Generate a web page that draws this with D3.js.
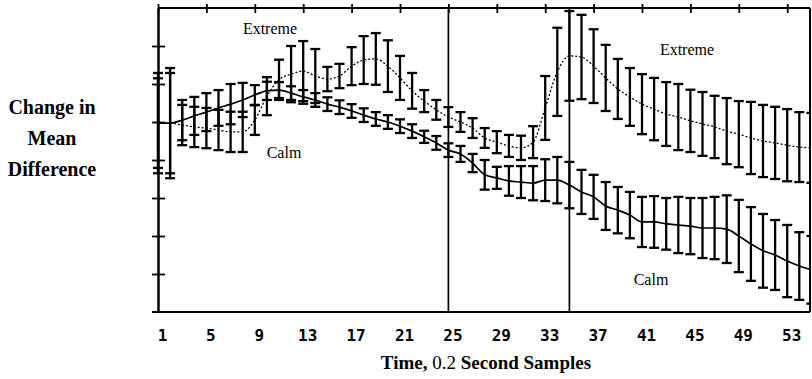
<!DOCTYPE html>
<html>
<head>
<meta charset="utf-8">
<script src="https://cdn.jsdelivr.net/npm/d3@7"></script>
<style>
  body { margin: 0; background: #fff; }
  svg { display: block; }
</style>
</head>
<body>
<div id="chart"></div>
<script>
// samples (0.2 s each)
var samples = d3.range(1, 56);

// Calm condition: mean and error half-width
var calmMean = [0.97, 0.97, 1.05, 1.16, 1.26, 1.37, 1.47, 1.58, 1.71, 1.82,
  1.84, 1.76, 1.66, 1.58, 1.47, 1.39, 1.29, 1.18, 1.08, 1.00,
  0.89, 0.76, 0.61, 0.45, 0.26, 0.16, -0.08, -0.39, -0.47, -0.55,
  -0.58, -0.61, -0.53, -0.53, -0.66, -0.84, -0.97, -1.21, -1.32, -1.45,
  -1.63, -1.63, -1.68, -1.71, -1.74, -1.79, -1.79, -1.82, -2.00, -2.21,
  -2.39, -2.50, -2.66, -2.79, -2.89];
var calmErr = [1.18, 1.32, 0.53, 0.50, 0.50, 0.47, 0.53, 0.45, 0.26, 0.24,
  0.21, 0.18, 0.18, 0.18, 0.18, 0.18, 0.18, 0.18, 0.18, 0.18,
  0.18, 0.18, 0.16, 0.18, 0.18, 0.21, 0.24, 0.39, 0.29, 0.39,
  0.42, 0.45, 0.55, 0.61, 0.61, 0.58, 0.58, 0.63, 0.61, 0.61,
  0.66, 0.68, 0.68, 0.74, 0.74, 0.79, 0.82, 0.89, 0.95, 0.97,
  0.97, 0.92, 0.95, 0.89, 0.89];

// Extreme condition
var extremeMean = [0.97, 0.97, 0.92, 0.87, 0.84, 0.79, 0.74, 0.74, 1.05, 1.68,
  2.11, 2.26, 2.34, 2.21, 2.13, 2.21, 2.47, 2.63, 2.66, 2.47,
  2.16, 1.82, 1.55, 1.32, 1.13, 1.00, 0.84, 0.58, 0.47, 0.37,
  0.32, 0.47, 1.37, 2.32, 2.74, 2.71, 2.47, 2.16, 1.87, 1.66,
  1.47, 1.34, 1.21, 1.13, 1.03, 0.95, 0.87, 0.76, 0.68, 0.58,
  0.50, 0.45, 0.39, 0.34, 0.32];
var extremeErr = [1.32, 1.45, 0.53, 0.53, 0.53, 0.53, 0.53, 0.53, 0.39, 0.50,
  0.53, 0.74, 0.79, 0.71, 0.32, 0.32, 0.50, 0.63, 0.68, 0.68,
  0.58, 0.47, 0.29, 0.26, 0.26, 0.26, 0.26, 0.26, 0.29, 0.29,
  0.32, 0.42, 0.84, 1.16, 1.18, 1.11, 0.97, 0.87, 0.79, 0.76,
  0.79, 0.82, 0.84, 0.87, 0.82, 0.84, 0.82, 0.87, 0.87, 0.95,
  0.95, 0.95, 0.95, 0.92, 0.92];

var xTickLabels = ["1", "5", "9", "13", "17", "21", "25", "29", "33", "37", "41", "45", "49", "53"];
var yTicks = [-3, -2, -1, 0, 1, 2, 3];
var dividers = [25, 35];

var width = 812, height = 379;
// note: "top" is reserved on window, so use plotTop etc.
var plotLeft = 158, plotRight = 810, plotTop = 8, plotBottom = 312;

var svg = d3.select("#chart").append("svg")
    .attr("width", width)
    .attr("height", height);

var x = d3.scaleLinear().domain([1, 55]).range([plotLeft, plotLeft + 54 * 12.1]);
var y = d3.scaleLinear().domain([-4, 4]).range([plotBottom, plotTop]);

svg.append("defs").append("clipPath").attr("id", "plot")
  .append("rect").attr("x", plotLeft - 8).attr("y", 0)
  .attr("width", plotRight - plotLeft + 8).attr("height", plotBottom);

var plot = svg.append("g").attr("clip-path", "url(#plot)");

// divider lines
plot.selectAll("line.div").data(dividers).enter().append("line")
    .attr("class", "div")
    .attr("x1", function(d) { return x(d); })
    .attr("x2", function(d) { return x(d); })
    .attr("y1", plotTop).attr("y2", plotBottom)
    .attr("stroke", "#000").attr("stroke-width", 1.7);

function drawSeries(mean, err, dash) {
  var pts = samples.map(function(s, i) { return {s: s, m: mean[i], e: err[i]}; });

  var g = plot.append("g");
  var bars = g.selectAll("g.bar").data(pts).enter().append("g");
  bars.append("line")
      .attr("x1", function(d) { return x(d.s); })
      .attr("x2", function(d) { return x(d.s); })
      .attr("y1", function(d) { return y(d.m + d.e); })
      .attr("y2", function(d) { return y(d.m - d.e); });
  bars.append("line")
      .attr("x1", function(d) { return x(d.s) - 5; })
      .attr("x2", function(d) { return x(d.s) + 5; })
      .attr("y1", function(d) { return y(d.m + d.e); })
      .attr("y2", function(d) { return y(d.m + d.e); });
  bars.append("line")
      .attr("x1", function(d) { return x(d.s) - 5; })
      .attr("x2", function(d) { return x(d.s) + 5; })
      .attr("y1", function(d) { return y(d.m - d.e); })
      .attr("y2", function(d) { return y(d.m - d.e); });
  bars.selectAll("line").attr("stroke", "#000").attr("stroke-width", 2.3);

  var line = d3.line()
      .x(function(d) { return x(d.s); })
      .y(function(d) { return y(d.m); })
      .curve(d3.curveMonotoneX);

  g.append("path")
      .datum(pts)
      .attr("d", line)
      .attr("fill", "none")
      .attr("stroke", "#000")
      .attr("stroke-width", dash ? 1.3 : 1.7)
      .attr("stroke-dasharray", dash ? "2,2" : null);
}

drawSeries(calmMean, calmErr, false);
drawSeries(extremeMean, extremeErr, true);

// frame
svg.append("line").attr("x1", plotLeft).attr("x2", plotRight).attr("y1", plotTop).attr("y2", plotTop)
    .attr("stroke", "#000").attr("stroke-width", 2);
svg.append("line").attr("x1", plotLeft - 6).attr("x2", plotRight).attr("y1", plotBottom).attr("y2", plotBottom)
    .attr("stroke", "#000").attr("stroke-width", 2);
svg.append("line").attr("x1", plotRight).attr("x2", plotRight).attr("y1", plotTop).attr("y2", plotBottom)
    .attr("stroke", "#000").attr("stroke-width", 2);

// left axis, ticks cross the line
var yAxis = svg.append("g")
    .attr("transform", "translate(" + plotLeft + ",0)")
    .call(d3.axisLeft(y).tickValues(yTicks).tickSize(6).tickSizeOuter(0).tickFormat(""));
yAxis.select(".domain").attr("stroke-width", 2.5);
yAxis.selectAll(".tick line").attr("x1", 7).attr("x2", -6).attr("stroke-width", 1.8);

// top ticks
var topAxis = svg.append("g")
    .attr("transform", "translate(0," + plotTop + ")")
    .call(d3.axisTop(x).tickValues(xTickLabels.map(Number)).tickSize(5).tickFormat(""));
topAxis.select(".domain").remove();
topAxis.selectAll(".tick line").attr("y2", -4).attr("y1", 5).attr("stroke-width", 1.8);

// bottom tick labels
var xAxis = svg.append("g")
    .attr("transform", "translate(0," + plotBottom + ")")
    .call(d3.axisBottom(x).tickValues(xTickLabels.map(Number)).tickSize(0).tickPadding(18)
      .tickFormat(function(d) { return String(d); }));
xAxis.select(".domain").remove();
xAxis.selectAll("text")
    .attr("x", 4)
    .style("font-family", "'DejaVu Sans Mono', monospace")
    .style("font-weight", "bold")
    .style("font-size", "16px")
    .attr("fill", "#000");

// axis titles
var title = svg.append("text")
    .attr("x", 486).attr("y", 369)
    .attr("text-anchor", "middle")
    .style("font-family", "'Liberation Serif', 'Times New Roman', serif")
    .style("font-size", "19px");
title.append("tspan").style("font-weight", "bold").text("Time, ");
title.append("tspan").text("0.2 ");
title.append("tspan").style("font-weight", "bold").text("Second Samples");

var yLabel = ["Change in", "Mean", "Difference"];
svg.selectAll("text.ylab").data(yLabel).enter().append("text")
    .attr("class", "ylab")
    .attr("x", 52)
    .attr("y", function(d, i) { return 114 + i * 31; })
    .attr("text-anchor", "middle")
    .style("font-family", "'Liberation Serif', 'Times New Roman', serif")
    .style("font-weight", "bold")
    .style("font-size", "20px")
    .text(function(d) { return d; });

// series labels
var notes = [
  {t: "Extreme", x: 270, y: 34},
  {t: "Calm", x: 284, y: 158},
  {t: "Extreme", x: 687, y: 55},
  {t: "Calm", x: 651, y: 285}
];
svg.selectAll("text.note").data(notes).enter().append("text")
    .attr("class", "note")
    .attr("x", function(d) { return d.x; })
    .attr("y", function(d) { return d.y; })
    .attr("text-anchor", "middle")
    .style("font-family", "'Liberation Serif', 'Times New Roman', serif")
    .style("font-size", "16px")
    .text(function(d) { return d.t; });
</script>
</body>
</html>
